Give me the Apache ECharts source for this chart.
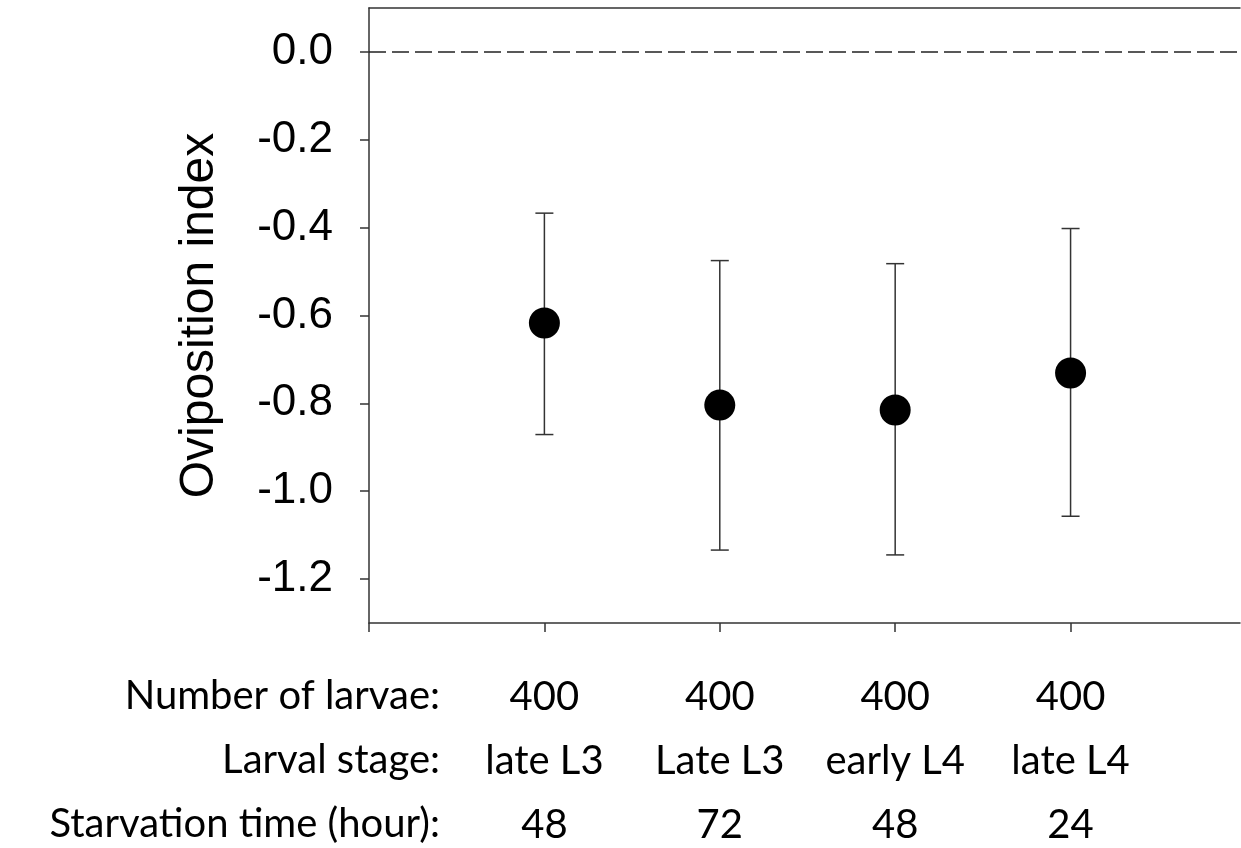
<!DOCTYPE html>
<html>
<head>
<meta charset="utf-8">
<script src="https://cdn.jsdelivr.net/npm/echarts@6/dist/echarts.min.js"></script>
<style>
html,body{margin:0;padding:0;background:#fff;}
#chart{width:1241px;height:848px;}
</style>
</head>
<body>
<div id="chart"></div>
<script>
// ---- data ----
var groupPositions = [1, 2, 3, 4];
var numberOfLarvae = ['400', '400', '400', '400'];
var larvalStage = ['late L3', 'Late L3', 'early L4', 'late L4'];
var starvationHours = ['48', '72', '48', '24'];
var meanIndex = [-0.617, -0.804, -0.815, -0.731];
var upperIndex = [-0.367, -0.475, -0.482, -0.402];
var lowerIndex = [-0.871, -1.134, -1.145, -1.057];
var yTickValues = [-1.2, -1.0, -0.8, -0.6, -0.4, -0.2, 0.0];
var xTickValues = [0, 1, 2, 3, 4];
var rowHeaders = ['Number of larvae:', 'Larval stage:', 'Starvation time (hour):'];
var yTitle = 'Oviposition index';

var chart = echarts.init(document.getElementById('chart'));

var pointData = groupPositions.map(function (x, i) { return [x, meanIndex[i]]; });
var errData = groupPositions.map(function (x, i) { return [x, lowerIndex[i], upperIndex[i]]; });

var axisColor = '#333333';
var tableFont = 'Lato, "Open Sans", sans-serif';

var option = {
  animation: false,
  backgroundColor: '#fff',
  grid: {
    left: 369, top: 8, height: 615, right: 1,
    outerBoundsMode: 'none',
    containLabel: false,
    show: false
  },
  xAxis: [{
    type: 'value', min: 0, max: 4.966, position: 'bottom',
    axisLine: { show: true, onZero: false, lineStyle: { color: axisColor, width: 1.5 } },
    axisTick: { show: true, length: 9, customValues: xTickValues, lineStyle: { color: axisColor, width: 1.5 } },
    splitLine: { show: false },
    axisLabel: {
      show: true,
      customValues: groupPositions,
      margin: 42,
      fontFamily: tableFont,
      fontSize: 40,
      lineHeight: 64,
      color: '#000',
      formatter: function (v) {
        var i = groupPositions.indexOf(Math.round(v));
        if (i < 0) return '';
        return numberOfLarvae[i] + '\n' + larvalStage[i] + '\n' + starvationHours[i];
      }
    }
  }, {
    type: 'value', min: 0, max: 4.966, position: 'top',
    axisLine: { show: true, onZero: false, lineStyle: { color: axisColor, width: 1.5 } },
    axisTick: { show: false }, axisLabel: { show: false }, splitLine: { show: false }
  }],
  yAxis: {
    type: 'value', min: -1.3, max: 0.1,
    name: yTitle, nameLocation: 'middle', nameGap: 145, nameRotate: 90,
    nameTextStyle: { fontFamily: '"Liberation Sans", Arial, sans-serif', fontSize: 48, color: '#000' },
    axisLine: { show: true, onZero: false, lineStyle: { color: axisColor, width: 1.5 } },
    axisTick: { show: true, length: 9, customValues: yTickValues, lineStyle: { color: axisColor, width: 1.5 } },
    splitLine: { show: false },
    axisLabel: {
      customValues: yTickValues,
      margin: 36,
      fontFamily: '"Liberation Sans", Arial, sans-serif',
      fontSize: 44,
      color: '#000',
      formatter: function (v) { return v.toFixed(1); }
    }
  },
  graphic: rowHeaders.map(function (t, i) {
    return {
      type: 'text', right: 1241 - 440, top: 664 + i * 64,
      style: { text: t, font: '40px ' + tableFont, fill: '#000', textAlign: 'right', lineHeight: 64, textVerticalAlign: 'top' }
    };
  }),
  series: [
    {
      type: 'custom',
      data: errData,
      z: 2,
      renderItem: function (params, api) {
        var x = api.value(0);
        var lo = api.coord([x, api.value(1)]);
        var hi = api.coord([x, api.value(2)]);
        var hw = 9;
        var st = { stroke: axisColor, lineWidth: 1.5 };
        return {
          type: 'group',
          children: [
            { type: 'line', shape: { x1: lo[0], y1: lo[1], x2: hi[0], y2: hi[1] }, style: st },
            { type: 'line', shape: { x1: lo[0] - hw, y1: lo[1], x2: lo[0] + hw, y2: lo[1] }, style: st },
            { type: 'line', shape: { x1: hi[0] - hw, y1: hi[1], x2: hi[0] + hw, y2: hi[1] }, style: st }
          ]
        };
      }
    },
    {
      type: 'scatter',
      data: pointData,
      symbol: 'circle',
      symbolSize: 31,
      z: 3,
      itemStyle: { color: '#000', opacity: 1 },
      markLine: {
        silent: true,
        symbol: ['none', 'none'],
        label: { show: false },
        lineStyle: { color: '#222', width: 1.5, type: [17, 6], opacity: 1 },
        data: [{ yAxis: 0 }]
      }
    }
  ]
};
chart.setOption(option);
</script>
</body>
</html>
